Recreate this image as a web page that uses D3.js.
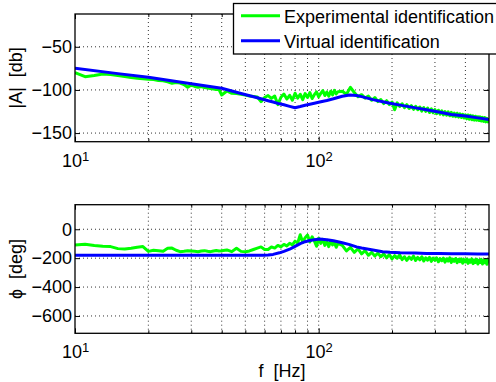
<!DOCTYPE html>
<html>
<head>
<meta charset="utf-8">
<script src="https://cdn.jsdelivr.net/npm/d3@7"></script>
<style>
  body { margin: 0; background: #fff; }
  text { font-family: "Liberation Sans", Arial, Helvetica, sans-serif; }
</style>
</head>
<body>
<div id="chart"></div>
<script>
// ---- data ----
const greenFreq = [
  10, 11, 12, 13, 14, 15, 16, 17, 18, 19, 20, 21, 22, 23, 24, 25, 26, 27, 28, 29, 30,
  31, 32, 33, 34, 35, 36, 37, 38, 39, 40,
  42, 44, 46, 48, 50, 52, 54, 56, 58, 60,
  62, 64, 66, 68, 70, 72, 74, 76, 78, 80, 82, 84, 86, 88, 90, 92, 94, 96, 98, 100,
  102, 104, 106, 108, 110, 112, 114, 116, 118, 120,
  125, 130, 135, 140, 145, 150, 155, 160, 165, 170, 175, 180, 185, 190, 195, 200,
  205, 210, 215, 220, 225, 230, 235, 240, 245, 250, 255, 260, 265, 270, 275, 280,
  285, 290, 295, 300, 305, 310, 315, 320, 325, 330, 335, 340, 345, 350, 355, 360,
  365, 370, 375, 380, 385, 390, 395, 400, 405, 410, 415, 420, 425, 430, 435, 440,
  445, 450, 455, 460, 465, 470, 475, 480, 485, 490, 495, 500
];
const greenMag = [
  -80.0, -84.7, -83.3, -81.5, -82.1, -83.3, -84.4, -85.6, -86.5, -87.1, -87.7,
  -87.9, -89.1, -89.4, -90.6, -92.3, -91.4, -92.0, -93.7, -96.9, -94.3,
  -96.0, -96.9, -96.0, -97.2, -97.7, -98.3, -98.9, -99.5, -99.5, -105.9,
  -101.2, -103.9, -104.2, -105.0, -106.0, -107.0, -107.6, -108.2, -113.6, -108.8,
  -106.5, -109.8, -107.0, -117.0, -108.5, -104.8, -110.6, -106.2, -112.0, -103.8,
  -109.5, -105.0, -111.2, -104.2, -108.8, -103.0, -110.0, -105.5, -102.2, -108.0,
  -104.0, -100.8, -106.5, -102.5, -107.2, -101.5, -105.8, -100.5, -104.5, -102.0,
  -101.5, -105.0, -97.0, -103.0, -107.8, -105.5, -109.5, -107.2, -112.0, -108.8,
  -113.5, -111.2, -115.8, -112.5, -117.0, -114.0, -123.0, -115.0, -119.2, -116.0,
  -120.5, -117.0, -121.5, -118.2, -122.5, -119.0, -123.0, -119.8, -124.5, -120.5,
  -124.8, -121.0, -126.2, -122.0, -126.5, -122.8, -127.5, -123.5, -128.0, -124.2,
  -129.0, -125.0, -129.2, -125.5, -130.0, -126.0, -130.5, -126.8, -131.0, -127.0,
  -131.5, -127.8, -132.0, -128.2, -132.5, -128.8, -133.5, -129.0, -134.0, -129.5,
  -134.5, -130.0, -135.0, -130.5, -135.2, -131.0, -135.5, -131.2, -136.0, -131.8,
  -136.5, -132.0, -137.0, -133.0, -137.0, -134.0
];
const greenPhase = [
  -109, -103, -112, -117, -120, -134, -136, -131, -124, -120, -153,
  -145, -148, -152, -132, -130, -145, -155, -152, -148, -150,
  -152, -155, -150, -148, -152, -155, -150, -147, -150, -148,
  -143, -155, -131, -153, -155, -150, -140, -131, -122, -140,
  -140, -122, -130, -112, -122, -105, -115, -97, -108, -82,
  -96, -38, -90, -58, -40, -88, -52, -80, -118, -62,
  -98, -70, -112, -84, -120, -82, -108, -92, -125, -98,
  -112, -150, -125, -160, -135, -170, -148, -180, -160, -185,
  -165, -190, -170, -198, -175, -205, -182, -200, -178, -210,
  -190, -215, -192, -208, -186, -216, -195, -212, -190, -220,
  -198, -214, -195, -222, -200, -215, -198, -225, -203, -218,
  -200, -228, -205, -220, -198, -230, -206, -222, -202, -232,
  -208, -224, -204, -235, -210, -226, -206, -236, -212, -228,
  -205, -238, -213, -230, -207, -240, -215, -230, -208, -240,
  -216, -232, -210, -242, -216, -226
];

const blueFreq = [
  10, 15, 20, 30, 40, 47.6, 55, 59, 62, 65, 69, 72, 76, 80, 84, 88, 92, 96, 101,
  108, 115, 125, 134, 143, 150, 167, 183, 196, 216, 250, 277, 315, 350, 400, 450, 500
];
const blueMag = [
  -74.9, -81.1, -85.3, -92.9, -98.1, -103.9, -108.5, -110.8, -112.5, -114.0, -116.1,
  -117.2, -119.0, -120.6, -119.2, -117.7, -116.5, -115.4, -114.0,
  -112.2, -110.2, -107.3, -105.9, -106.5, -107.8, -111.2, -113.6, -115.5, -117.6,
  -120.8, -123.0, -125.9, -128.5, -130.3, -132.4, -134.3
];
const bluePhase = [
  -180, -180, -180, -180, -180, -180, -180, -180, -178, -174, -163,
  -153, -138, -118, -99, -86, -78, -72, -68,
  -72, -80, -93, -106, -122, -130, -143, -155, -159, -163,
  -165, -167, -168, -169, -170, -171, -171
];

const xMajor = [10, 100];
const xMinor = [20, 30, 40, 50, 60, 70, 80, 90, 200, 300, 400];
const magTicks = [-150, -100, -50];
const phaseTicks = [-600, -400, -200, 0];
const legendNames = ["Experimental identification", "Virtual identification"];
const lineColors = ["#00ff00", "#0000ff"];

// ---- layout ----
const W = 496, H = 382;
const FS = 18;

const svg = d3.select("#chart").append("svg")
    .attr("width", W)
    .attr("height", H);

svg.append("rect")
    .attr("width", W)
    .attr("height", H)
    .attr("fill", "#fff");

const x = d3.scaleLog().domain([10, 500]).range([75, 489]);
const yMag = d3.scaleLinear().domain([-160, -12]).range([141.7, 14]);
const yPh = d3.scaleLinear().domain([-720, 170]).range([333.3, 204.7]);

const greenMagPts = greenFreq.map((f, i) => [f, greenMag[i]]);
const greenPhPts = greenFreq.map((f, i) => [f, greenPhase[i]]);
const blueMagPts = blueFreq.map((f, i) => [f, blueMag[i]]);
const bluePhPts = blueFreq.map((f, i) => [f, bluePhase[i]]);

function drawPanel(y, yTicks, series, label, id) {
  const [x0, x1] = x.range();
  const [yb, yt] = y.range();
  const g = svg.append("g");

  // dotted grid
  g.append("g").selectAll("line.h")
      .data(yTicks)
      .join("line")
      .attr("x1", x0).attr("x2", x1)
      .attr("y1", d => y(d)).attr("y2", d => y(d))
      .attr("stroke", "#333")
      .attr("stroke-width", 1)
      .attr("stroke-dasharray", "1,3");

  g.append("g").selectAll("line.v")
      .data(xMinor.concat([100]))
      .join("line")
      .attr("x1", d => x(d)).attr("x2", d => x(d))
      .attr("y1", yt).attr("y2", yb)
      .attr("stroke", "#333")
      .attr("stroke-width", 1)
      .attr("stroke-dasharray", "1,3");

  svg.append("clipPath").attr("id", id)
    .append("rect")
      .attr("x", x0).attr("y", yt)
      .attr("width", x1 - x0).attr("height", yb - yt);

  const line = d3.line().x(d => x(d[0])).y(d => y(d[1]));

  g.append("g").attr("clip-path", `url(#${id})`)
    .selectAll("path")
    .data(series)
    .join("path")
      .attr("d", d => line(d))
      .attr("fill", "none")
      .attr("stroke", (d, i) => lineColors[i])
      .attr("stroke-width", 3)
      .attr("stroke-linejoin", "round");

  // ticks, pointing inward on all four sides
  const bottom = g.append("g")
      .attr("transform", `translate(0,${yb})`)
      .call(d3.axisBottom(x).tickValues(xMajor).tickSize(-5).tickFormat(""));
  bottom.selectAll(".tick text").remove();
  bottom.selectAll(".tick").append("text")
      .attr("y", 25)
      .attr("fill", "#000")
      .attr("font-size", FS)
      .attr("text-anchor", "middle")
      .call(t => {
        t.append("tspan").text("10");
        t.append("tspan").attr("dy", -6).attr("font-size", 13)
            .text(d => Math.round(Math.log10(d)));
      });
  g.append("g")
      .attr("transform", `translate(0,${yb})`)
      .call(d3.axisBottom(x).tickValues(xMinor).tickSize(-3).tickFormat(""));
  g.append("g")
      .attr("transform", `translate(0,${yt})`)
      .call(d3.axisTop(x).tickValues(xMajor).tickSize(-5).tickFormat(""));
  g.append("g")
      .attr("transform", `translate(0,${yt})`)
      .call(d3.axisTop(x).tickValues(xMinor).tickSize(-3).tickFormat(""));

  g.append("g")
      .attr("transform", `translate(${x0},0)`)
      .call(d3.axisLeft(y).tickValues(yTicks).tickSize(-5).tickPadding(3))
      .selectAll("text")
      .attr("font-size", FS)
      .attr("font-family", null)
      .attr("fill", "#000");
  g.append("g")
      .attr("transform", `translate(${x1},0)`)
      .call(d3.axisRight(y).tickValues(yTicks).tickSize(-5).tickFormat(""));

  g.selectAll(".domain").remove();
  g.selectAll(".tick line").attr("stroke", "#000");

  g.append("rect")
      .attr("x", x0).attr("y", yt)
      .attr("width", x1 - x0).attr("height", yb - yt)
      .attr("fill", "none")
      .attr("stroke", "#000")
      .attr("stroke-width", 1.3);

  g.append("text")
      .attr("transform", `translate(22,${(yt + yb) / 2}) rotate(-90)`)
      .attr("text-anchor", "middle")
      .attr("font-size", FS)
      .style("white-space", "pre")
      .text(label);
}

drawPanel(yMag, magTicks, [greenMagPts, blueMagPts], "|A|  [db]", "clipMag");
drawPanel(yPh, phaseTicks, [greenPhPts, bluePhPts], "\u03D5  [deg]", "clipPh");

svg.append("text")
    .attr("x", (x.range()[0] + x.range()[1]) / 2)
    .attr("y", 377)
    .attr("text-anchor", "middle")
    .attr("font-size", FS)
    .style("white-space", "pre")
    .text("f  [Hz]");

// legend
const legend = svg.append("g");
legend.append("rect")
    .attr("x", 233.5).attr("y", 3.5)
    .attr("width", 300).attr("height", 50.5)
    .attr("fill", "#fff")
    .attr("stroke", "#000")
    .attr("stroke-width", 1.3);

const items = legend.selectAll("g.item")
    .data(legendNames)
    .join("g")
    .attr("transform", (d, i) => `translate(0,${15.7 + i * 25})`);

items.append("line")
    .attr("x1", 241).attr("x2", 280)
    .attr("stroke", (d, i) => lineColors[i])
    .attr("stroke-width", 3);

items.append("text")
    .attr("x", 284)
    .attr("y", 7)
    .attr("font-size", FS)
    .text(d => d);
</script>
</body>
</html>
